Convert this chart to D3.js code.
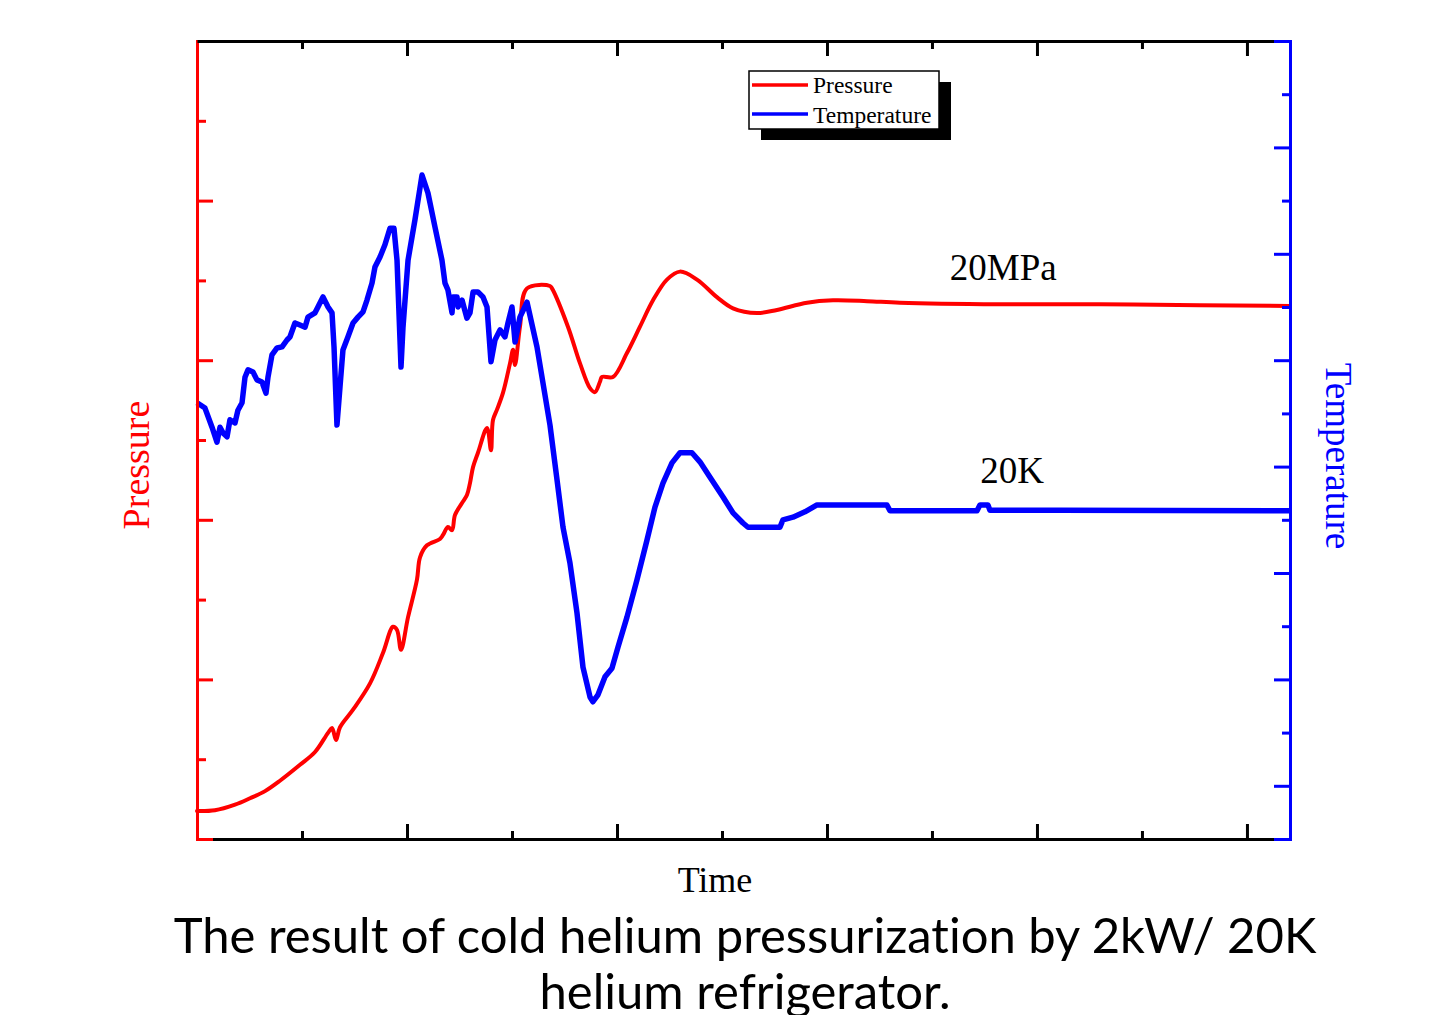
<!DOCTYPE html>
<html><head><meta charset="utf-8">
<script src="https://cdn.jsdelivr.net/npm/d3@7"></script>
<style>body{margin:0;background:#fff} svg{display:block} text{font-variant-ligatures:none;font-feature-settings:"liga" 0,"dlig" 0}</style>
</head><body>
<svg id="c" width="1441" height="1015"></svg>
<script>
// ---- data (arbitrary units) ----
const timeP = [0,1.71,3.62,5.05,6.48,7.90,9.81,11.24,12.48,12.86,13.24,13.62,14.86,16.48,17.71,18.67,19.05,19.43,20.10,20.95,21.24,21.90,23.14,23.43,23.90,24.29,24.57,25.24,25.71,26.0,26.29,26.76,27.62,28.0,28.19,28.57,29.14,29.81,30.10,30.29,30.76,31.43,33.62,33.81,35.33,36.48,37.43,37.90,38.38,38.57,39.62,40.95,42.19,43.43,44.76,46.0,47.62,49.52,51.05,53.33,55.24,58.10,60.57,63.81,66.95,76.48,86.0,95.52,104.1];
const pressure = [3.5,3.6,4.3,5.1,6.0,7.3,9.3,10.9,13.3,13.9,12.4,14.0,16.2,19.5,23.3,26.6,26.2,23.7,27.8,32.5,35.3,36.8,37.6,38.1,39.1,38.7,40.6,42.1,43.1,44.6,46.6,48.4,51.5,48.7,52.5,53.8,55.9,59.6,61.3,59.4,64.2,69.0,69.3,69.0,64.2,59.6,56.5,56.0,57.3,57.9,57.9,60.9,64.2,67.5,70.1,71.1,70.1,67.9,66.5,65.9,66.3,67.2,67.5,67.4,67.2,67.0,67.0,66.9,66.8];

const timeT = [0,0.76,1.43,1.90,2.19,2.48,2.86,3.14,3.62,3.90,4.29,4.57,4.86,5.33,5.71,6.19,6.57,6.76,7.14,7.62,8.10,8.57,8.86,9.33,9.81,10.29,10.57,11.24,11.52,12.0,12.48,12.86,13.05,13.33,13.62,13.90,14.38,14.86,15.33,15.81,16.19,16.67,16.95,17.43,17.90,18.38,18.76,19.05,19.43,19.62,20.10,20.76,21.43,22.0,22.67,23.33,23.62,23.90,24.29,24.38,24.76,24.86,25.24,25.71,26.0,26.29,26.76,27.24,27.62,28.0,28.38,28.86,29.33,29.62,30.0,30.29,30.76,31.43,32.38,33.62,34.29,34.86,35.52,36.19,36.76,37.43,37.71,38.19,38.86,39.52,40.10,40.95,41.90,42.86,43.62,44.38,45.24,46.0,47.14,47.90,48.86,50.10,51.05,52.0,52.48,55.52,55.81,56.76,57.90,59.05,65.71,66.0,74.29,74.57,75.33,75.52,82.19,104.1];
const temperature = [82.0,81.0,77.4,74.6,77.4,76.3,75.6,78.8,78.2,80.6,82.0,86.8,88.2,87.8,86.3,85.9,83.8,86.8,91.0,92.3,92.5,93.8,94.4,97.0,96.6,96.2,98.1,98.9,100.0,101.9,100.0,98.9,92.5,77.8,85.0,91.9,94.4,97.0,98.1,99.1,101.3,104.5,107.5,109.4,111.7,114.8,114.8,108.8,88.7,96.2,108.8,116.4,124.8,121.4,115.0,108.8,104.5,103.2,98.9,101.9,101.9,100.0,101.3,97.9,98.9,102.8,102.8,101.9,100.0,89.7,93.8,95.7,94.4,97.0,100.0,93.4,98.1,100.9,92.5,77.8,67.5,58.6,51.9,42.5,32.3,26.7,25.8,27.1,30.5,32.1,36.1,41.7,48.7,56.2,62.4,66.9,70.7,72.6,72.6,70.9,68.0,64.3,61.3,59.4,58.6,58.6,60.0,60.5,61.5,62.8,62.8,61.7,61.7,62.8,62.8,61.8,61.8,61.7];

const xMajor = [20,40,60,80,100];
const xMinor = [10,30,50,70,90];
const pMajor = [20,40,60,80];
const pMinor = [10,30,50,70,90];
const tMajor = [10,30,50,70,90,110,130];
const tMinor = [20,40,60,80,100,120,140];

const legendLabels = ["Pressure","Temperature"];
const annotations = [{text:"20MPa", t:71.7, p:70.0},{text:"20K", t:74.6, T:67.0}];

// ---- layout ----
const L=197, R=1290, T=41, B=839;
const RED="#ff0000", BLUE="#0000ff";
const svg = d3.select("#c");
const x  = d3.scaleLinear([0,104.1],[L,R]);
const yP = d3.scaleLinear([0,100],[B,T]);
const yT = d3.scaleLinear([0,150],[B,T]);

function styleAxis(g,color,keepDomain){
  g.selectAll("line").attr("stroke",color).attr("stroke-width",3);
  g.selectAll("path.domain").attr("stroke",color).attr("stroke-width",3);
  if(!keepDomain) g.select("path.domain").remove();
  g.selectAll("text").remove();
}

// curves
const serif = "'Liberation Serif','Times New Roman',serif";
svg.append("path")
  .datum(timeP.map((t,i)=>[t,pressure[i]]))
  .attr("fill","none").attr("stroke",RED).attr("stroke-width",4)
  .attr("stroke-linejoin","round").attr("stroke-linecap","round")
  .attr("d", d3.line().curve(d3.curveCatmullRom.alpha(0.5)).x(d=>x(d[0])).y(d=>yP(d[1])));
svg.append("path")
  .datum(timeT.map((t,i)=>[t,temperature[i]]))
  .attr("fill","none").attr("stroke",BLUE).attr("stroke-width",5.5)
  .attr("stroke-linejoin","round").attr("stroke-linecap","butt")
  .attr("d", d3.line().x(d=>x(d[0])).y(d=>yT(d[1])));

// bottom axis
let g = svg.append("g").attr("transform",`translate(0,${B})`)
  .call(d3.axisTop(x).tickValues(xMajor).tickSize(15).tickSizeOuter(0).tickFormat(""));
styleAxis(g,"#000",true);
g = svg.append("g").attr("transform",`translate(0,${B})`)
  .call(d3.axisTop(x).tickValues(xMinor).tickSize(8).tickSizeOuter(0).tickFormat(""));
styleAxis(g,"#000",false);
// left axis
g = svg.append("g").attr("transform",`translate(${L},0)`)
  .call(d3.axisRight(yP).tickValues(pMajor).tickSize(16).tickSizeOuter(16).tickFormat(""));
styleAxis(g,RED,true);
g = svg.append("g").attr("transform",`translate(${L},0)`)
  .call(d3.axisRight(yP).tickValues(pMinor).tickSize(9).tickSizeOuter(0).tickFormat(""));
styleAxis(g,RED,false);
// top axis
g = svg.append("g").attr("transform",`translate(0,${T})`)
  .call(d3.axisBottom(x).tickValues(xMajor).tickSize(15).tickSizeOuter(0).tickFormat(""));
styleAxis(g,"#000",true);
g = svg.append("g").attr("transform",`translate(0,${T})`)
  .call(d3.axisBottom(x).tickValues(xMinor).tickSize(8).tickSizeOuter(0).tickFormat(""));
styleAxis(g,"#000",false);
// right axis
g = svg.append("g").attr("transform",`translate(${R},0)`)
  .call(d3.axisLeft(yT).tickValues(tMajor).tickSize(16).tickSizeOuter(16).tickFormat(""));
styleAxis(g,BLUE,true);
g = svg.append("g").attr("transform",`translate(${R},0)`)
  .call(d3.axisLeft(yT).tickValues(tMinor).tickSize(8).tickSizeOuter(0).tickFormat(""));
styleAxis(g,BLUE,false);

// axis titles
svg.append("text").text("Pressure")
  .attr("transform",`translate(149,465) rotate(-90)`)
  .attr("text-anchor","middle").attr("font-family",serif).attr("font-size",38).attr("fill",RED);
svg.append("text").text("Temperature")
  .attr("transform",`translate(1326,456) rotate(90)`)
  .attr("text-anchor","middle").attr("font-family",serif).attr("font-size",37).attr("fill",BLUE);
svg.append("text").text("Time")
  .attr("x",715).attr("y",892).attr("text-anchor","middle")
  .attr("font-family",serif).attr("font-size",36).attr("fill","#000");

// annotations
svg.append("text").text(annotations[0].text).attr("x",x(annotations[0].t)).attr("y",yP(annotations[0].p))
  .attr("font-family",serif).attr("font-size",37).attr("fill","#000");
svg.append("text").text(annotations[1].text).attr("x",x(annotations[1].t)).attr("y",yT(annotations[1].T))
  .attr("font-family",serif).attr("font-size",37).attr("fill","#000");

// legend
const lg = svg.append("g");
lg.append("rect").attr("x",761).attr("y",82).attr("width",190).attr("height",58).attr("fill","#000");
lg.append("rect").attr("x",749).attr("y",71).attr("width",190).attr("height",58)
  .attr("fill","#fff").attr("stroke","#000").attr("stroke-width",1.5);
[RED,BLUE].forEach((c,i)=>{
  lg.append("line").attr("x1",752).attr("x2",808).attr("y1",85+i*29).attr("y2",85+i*29)
    .attr("stroke",c).attr("stroke-width",3.5);
  lg.append("text").text(legendLabels[i]).attr("x",813).attr("y",93+i*29.5)
    .attr("font-family",serif).attr("font-size",23.5).attr("fill","#000");
});

// caption
const sans = "Lato,'Open Sans','Noto Sans',sans-serif";
const c1 = svg.append("text").text("The result of cold helium pressurization by 2kW/ 20K")
  .attr("x",745).attr("y",953).attr("text-anchor","middle")
  .attr("font-family",sans).attr("font-size",46).attr("fill","#000");
const w = c1.node().getComputedTextLength();
const fs = 46*1143/w;
c1.attr("font-size",fs);
svg.append("text").text("helium refrigerator.")
  .attr("x",745).attr("y",1009).attr("text-anchor","middle")
  .attr("font-family",sans).attr("font-size",fs).attr("fill","#000");
</script>
</body></html>
